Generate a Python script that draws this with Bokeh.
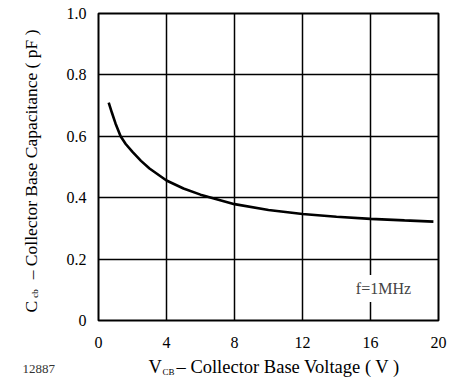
from bokeh.plotting import figure
from bokeh.models import Label, FixedTicker, Range1d
from bokeh.layouts import column, row
from bokeh.embed import file_html
from bokeh.resources import INLINE
from math import pi

# ---- data ----
v_cb = [0.6, 0.8, 1.0, 1.3, 1.6, 2.0, 2.5, 3.0, 4.0, 5.0, 6.0, 8.0, 10.0, 12.0, 14.0, 16.0, 18.0, 19.7]
c_cb = [0.71, 0.675, 0.642, 0.60, 0.575, 0.549, 0.52, 0.495, 0.456, 0.43, 0.41, 0.379, 0.36, 0.347, 0.338, 0.331, 0.326, 0.322]

x_ticks = [0, 4, 8, 12, 16, 20]
x_tick_labels = ["0", "4", "8", "12", "16", "20"]
y_ticks = [0, 0.2, 0.4, 0.6, 0.8, 1.0]
y_tick_labels = ["0", "0.2", "0.4", "0.6", "0.8", "1.0"]

x_title_main = "V"
x_title_sub = "CB"
x_title_rest = "\u2013 Collector Base Voltage ( V )"
y_title_main = "C"
y_title_sub = "cb"
y_title_rest = "\u2013 Collector Base Capacitance ( pF )"
note_text = "f=1MHz"
figure_id = "12887"

FONT = "Liberation Serif"

# ---- main chart ----
p = figure(width=404, height=350, output_backend="svg", toolbar_location=None,
           x_range=Range1d(0, 20), y_range=Range1d(0, 1),
           min_border_left=48, min_border_right=16, min_border_top=13, min_border_bottom=30)

p.background_fill_color = "white"
p.border_fill_color = "white"
p.outline_line_color = "black"
p.outline_line_width = 2
p.outline_line_alpha = 1

p.line(v_cb, c_cb, line_color="black", line_width=2.6)

for ax, ticks, labels in ((p.xaxis[0], x_ticks, x_tick_labels), (p.yaxis[0], y_ticks, y_tick_labels)):
    ax.ticker = FixedTicker(ticks=ticks)
    ax.major_label_overrides = {t: l for t, l in zip(ticks, labels)}
    ax.axis_line_color = None
    ax.major_tick_line_color = None
    ax.minor_tick_line_color = None
    ax.major_label_text_font = FONT
    ax.major_label_text_font_size = "16px"
    ax.major_label_text_color = "black"

p.xaxis.major_label_standoff = 10
p.yaxis.major_label_standoff = 6

for g in (p.xgrid[0], p.ygrid[0]):
    g.grid_line_color = "black"
    g.grid_line_width = 1.5
    g.grid_line_alpha = 1

p.xgrid[0].ticker = FixedTicker(ticks=x_ticks)
p.ygrid[0].ticker = FixedTicker(ticks=y_ticks)

p.add_layout(Label(x=16.76, y=0.104, text=note_text, text_font=FONT, text_font_size="16px",
                   text_align="center", text_baseline="middle",
                   background_fill_color="white", padding=5))


# ---- strips that carry the axis titles (pixel-based ranges) ----
def strip(w, h, x0, y0):
    s = figure(width=w, height=h, output_backend="svg", toolbar_location=None,
               x_range=Range1d(x0, x0 + w), y_range=Range1d(y0 + h, y0),
               x_axis_location=None, y_axis_location=None, min_border=0)
    s.outline_line_color = None
    s.background_fill_color = "white"
    s.border_fill_color = "white"
    s.grid.visible = False
    return s


def lab(fig, text, x, y, size, angle=0, color="black"):
    fig.add_layout(Label(x=x, y=y, text=text, text_font=FONT, text_font_size=size,
                         text_color=color, angle=angle, text_align="left",
                         text_baseline="alphabetic"))


left = strip(50, 350, 0, 0)
lab(left, y_title_main, 30, 341, "17.5px", angle=pi / 2)
lab(left, y_title_sub, 34, 324, "9px", angle=pi / 2)
lab(left, y_title_rest, 30, 303, "17.5px", angle=pi / 2)

bottom = strip(454, 30, 0, 350)
lab(bottom, x_title_main, 148, 366, "18.5px")
lab(bottom, x_title_sub, 162, 371, "9px")
lab(bottom, x_title_rest, 176, 366, "18.5px")
lab(bottom, figure_id, 22, 368, "13px", color="#333333")

layout = column(row(left, p), bottom)

open("out.html", "w").write(file_html(layout, INLINE))
